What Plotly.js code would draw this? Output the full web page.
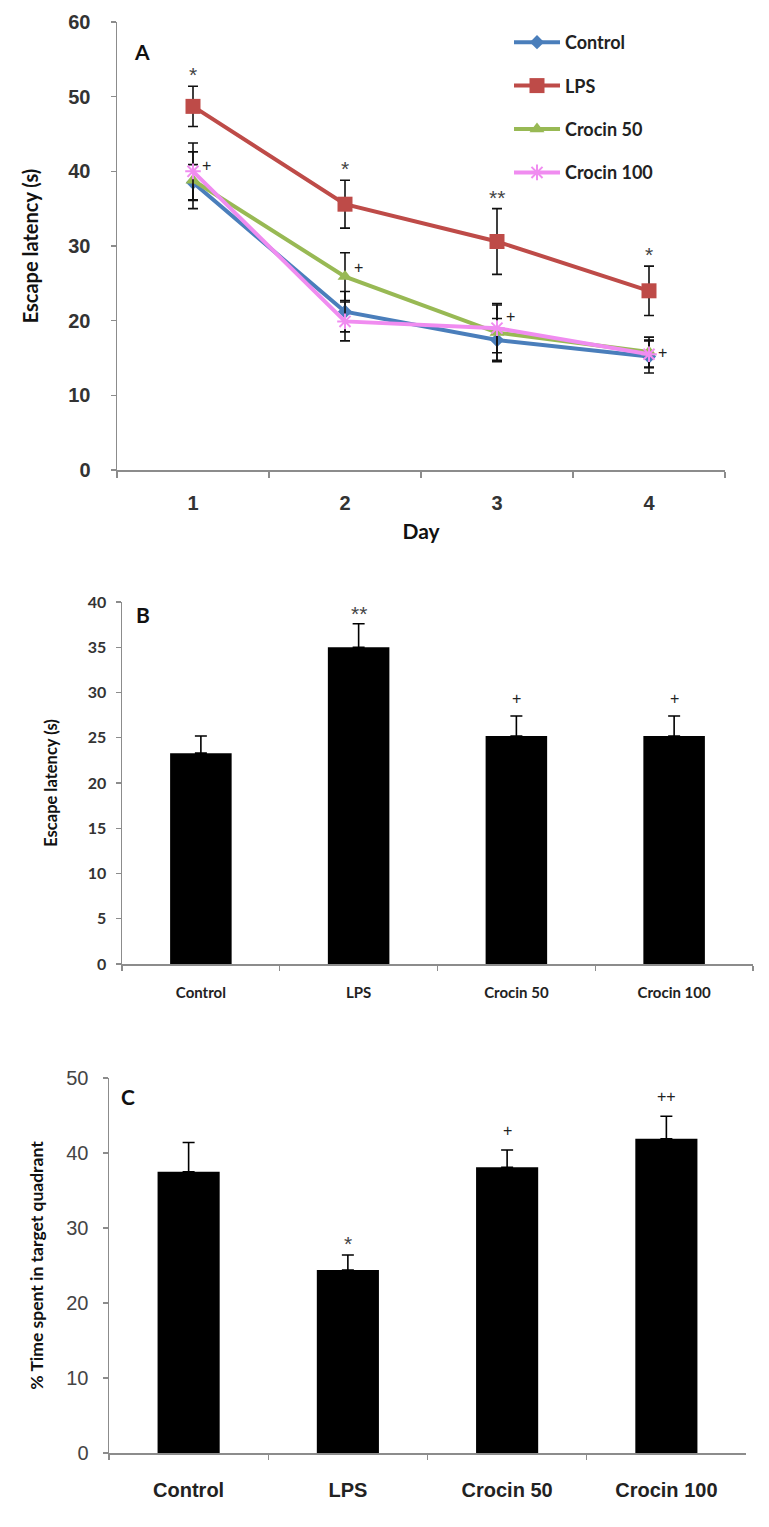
<!DOCTYPE html>
<html>
<head>
<meta charset="utf-8">
<script src="https://cdn.plot.ly/plotly-3.0.1.min.js"></script>
<style>
  html, body { margin: 0; padding: 0; background: #fff; }
  #chart { width: 769px; height: 1527px; }
</style>
</head>
<body>
<div id="chart"></div>
<script>
// ---------- Panel A: escape latency over training days ----------
const days = ['1', '2', '3', '4'];
const controlA = [38.5, 21.2, 17.4, 15.2];
const controlAerr = [2.4, 2.7, 2.9, 2.2];
const lpsA = [48.7, 35.6, 30.6, 24.0];
const lpsAerr = [2.7, 3.2, 4.4, 3.3];
const crocin50A = [38.8, 25.9, 18.4, 15.8];
const crocin50Aerr = [3.8, 3.2, 3.7, 2.0];
const crocin100A = [40.0, 19.9, 19.0, 15.5];
const crocin100Aerr = [3.8, 2.6, 3.3, 1.8];
const lpsSigA = ['*', '*', '**', '*'];
const plusSigA = ['+', '+', '+', '+'];
const plusLevelA = [40.8, 27.1, 20.5, 15.7];

// ---------- Panel B: escape latency (probe) ----------
const groups = ['Control', 'LPS', 'Crocin 50', 'Crocin 100'];
const latencyB = [23.3, 35.0, 25.2, 25.2];
const latencyBerr = [1.9, 2.6, 2.2, 2.2];
const sigB = ['', '**', '+', '+'];

// ---------- Panel C: % time in target quadrant ----------
const timeC = [37.5, 24.4, 38.1, 41.9];
const timeCerr = [3.9, 2.0, 2.3, 3.0];
const sigC = ['', '*', '+', '++'];

const W = 769, H = 1527;
const px = v => v / W;
const py = v => 1 - v / H;

const colA = {control: '#4a7ebb', lps: '#be4b48', c50: '#98b954', c100: '#f08cf0'};
const errStyle = (arr) => ({type: 'data', array: arr, visible: true, color: '#111', thickness: 1.6, width: 5});

const traces = [
  {x: days, y: controlA, name: 'Control', type: 'scatter', mode: 'lines+markers', xaxis: 'x', yaxis: 'y',
   legendgroup: 'g1', line: {color: colA.control, width: 4},
   marker: {symbol: 'diamond', size: 11, color: colA.control}, error_y: errStyle(controlAerr)},
  {x: days, y: lpsA, name: 'LPS', type: 'scatter', mode: 'lines+markers', xaxis: 'x', yaxis: 'y',
   legendgroup: 'g2', line: {color: colA.lps, width: 4},
   marker: {symbol: 'square', size: 15, color: colA.lps}, error_y: errStyle(lpsAerr)},
  {x: days, y: crocin50A, name: 'Crocin 50', type: 'scatter', mode: 'lines+markers', xaxis: 'x', yaxis: 'y',
   legendgroup: 'g3', line: {color: colA.c50, width: 4},
   marker: {symbol: 'triangle-up', size: 13, color: colA.c50}, error_y: errStyle(crocin50Aerr)},
  {x: days, y: crocin100A, name: 'Crocin 100', type: 'scatter', mode: 'lines+markers', xaxis: 'x', yaxis: 'y',
   legendgroup: 'g4', line: {color: colA.c100, width: 4},
   marker: {symbol: 'asterisk-open', size: 13, color: colA.c100, line: {color: colA.c100, width: 2}},
   error_y: errStyle(crocin100Aerr)},
  {x: groups, y: latencyB, type: 'bar', xaxis: 'x2', yaxis: 'y2', showlegend: false,
   marker: {color: '#000'},
   error_y: {type: 'data', symmetric: false, array: latencyBerr, arrayminus: latencyBerr.map(() => 0),
             color: '#000', thickness: 1.6, width: 6}},
  {x: groups, y: timeC, type: 'bar', xaxis: 'x3', yaxis: 'y3', showlegend: false,
   marker: {color: '#000'},
   error_y: {type: 'data', symmetric: false, array: timeCerr, arrayminus: timeCerr.map(() => 0),
             color: '#000', thickness: 1.6, width: 6}}
];

const annotations = [];
const starFont = {family: 'Liberation Sans, Arial, sans-serif', size: 21, color: '#444'};
const plusFont = {family: 'Liberation Sans, Arial, sans-serif', size: 16, color: '#222'};
// category index is used as x so the numeric day names are not misread
function addSig(xref, yref, tops, labels, yshiftStar, yshiftPlus) {
  labels.forEach((t, i) => {
    if (!t) return;
    const isStar = t.indexOf('*') >= 0;
    annotations.push({xref: xref, yref: yref, x: i, y: tops[i], text: t, showarrow: false,
      xanchor: 'center', yanchor: 'bottom',
      yshift: isStar ? yshiftStar : yshiftPlus, font: isStar ? starFont : plusFont});
  });
}
addSig('x', 'y', lpsA.map((v, i) => v + lpsAerr[i]), lpsSigA, -2, 6);
plusSigA.forEach((t, i) => annotations.push({xref: 'x', yref: 'y', x: i, y: plusLevelA[i], text: t,
  showarrow: false, xanchor: 'center', yanchor: 'middle', xshift: 13, font: plusFont}));
addSig('x2', 'y2', latencyB.map((v, i) => v + latencyBerr[i]), sigB, -3, 7);
addSig('x3', 'y3', timeC.map((v, i) => v + timeCerr[i]), sigC, -2, 9);

const letterFont = {family: 'Lato, Liberation Sans, sans-serif', size: 21, color: '#111'};
annotations.push({xref: 'paper', yref: 'paper', x: px(142), y: py(51), text: '<b>A</b>', showarrow: false,
  xanchor: 'center', yanchor: 'middle', font: letterFont});
annotations.push({xref: 'paper', yref: 'paper', x: px(143), y: py(614), text: '<b>B</b>', showarrow: false,
  xanchor: 'center', yanchor: 'middle', font: letterFont});
annotations.push({xref: 'paper', yref: 'paper', x: px(128), y: py(1096), text: '<b>C</b>', showarrow: false,
  xanchor: 'center', yanchor: 'middle', font: letterFont});

const axLine = '#8c8c8c';
const baseAx = {showline: true, linecolor: axLine, linewidth: 1.5, ticks: 'outside', tickcolor: axLine,
  ticklen: 5, tickwidth: 1.2, showgrid: false, zeroline: false, automargin: false, fixedrange: true};

const layout = {
  width: W, height: H,
  margin: {l: 0, r: 0, t: 0, b: 0},
  paper_bgcolor: '#fff', plot_bgcolor: 'rgba(0,0,0,0)',
  showlegend: true,
  legend: {x: px(509), y: py(24), xanchor: 'left', yanchor: 'top', tracegroupgap: 17, itemwidth: 46,
    traceorder: 'grouped', bgcolor: 'rgba(0,0,0,0)', borderwidth: 0,
    font: {family: 'Lato, Liberation Sans, sans-serif', size: 18, color: '#222', weight: 'bold'}},
  bargap: 0.61,
  xaxis: Object.assign({}, baseAx, {domain: [px(117), px(725)], anchor: 'y', type: 'category',
    range: [-0.5, 3.5], tickson: 'boundaries', ticklen: 6, ticklabelstandoff: 14,
    tickfont: {family: 'Liberation Sans, Arial, sans-serif', size: 20, color: '#333', weight: 'bold'},
    title: {text: '<b>Day</b>', standoff: 12, font: {family: 'Lato, Liberation Sans, sans-serif', size: 21, color: '#111'}}}),
  yaxis: Object.assign({}, baseAx, {domain: [py(470), py(22)], anchor: 'x', range: [0, 60], dtick: 10,
    ticklabelstandoff: 16,
    tickfont: {family: 'Liberation Sans, Arial, sans-serif', size: 20, color: '#333', weight: 'bold'},
    title: {text: '<b>Escape latency (s)</b>', standoff: 24, font: {family: 'Lato, Liberation Sans, sans-serif', size: 20, color: '#111'}}}),
  xaxis2: Object.assign({}, baseAx, {domain: [px(122), px(753)], anchor: 'y2', type: 'category',
    tickson: 'boundaries', ticklabelstandoff: 14,
    tickfont: {family: 'Lato, Liberation Sans, sans-serif', size: 15, color: '#222', weight: 'bold'}}),
  yaxis2: Object.assign({}, baseAx, {domain: [py(964), py(602)], anchor: 'x2', range: [0, 40], dtick: 5,
    ticklabelstandoff: 6,
    tickfont: {family: 'Lato, Liberation Sans, sans-serif', size: 16, color: '#333', weight: 'bold'},
    title: {text: '<b>Escape latency (s)</b>', standoff: 26, font: {family: 'Lato, Liberation Sans, sans-serif', size: 16.5, color: '#111'}}}),
  xaxis3: Object.assign({}, baseAx, {domain: [px(109), px(746)], anchor: 'y3', type: 'category',
    tickson: 'boundaries', ticklabelstandoff: 18,
    tickfont: {family: 'Liberation Sans Narrow, Arial Narrow, Liberation Sans, sans-serif', size: 20, color: '#222', weight: 'bold'}}),
  yaxis3: Object.assign({}, baseAx, {domain: [py(1453), py(1078)], anchor: 'x3', range: [0, 50], dtick: 10,
    ticklabelstandoff: 10,
    tickfont: {family: 'Liberation Sans, Arial, sans-serif', size: 20, color: '#444'},
    title: {text: '<b>% Time spent in target quadrant</b>', standoff: 18, font: {family: 'Lato, Liberation Sans, sans-serif', size: 17.5, color: '#111'}}}),
  annotations: annotations
};

Plotly.newPlot('chart', traces, layout, {staticPlot: true, displayModeBar: false});
</script>
</body>
</html>
